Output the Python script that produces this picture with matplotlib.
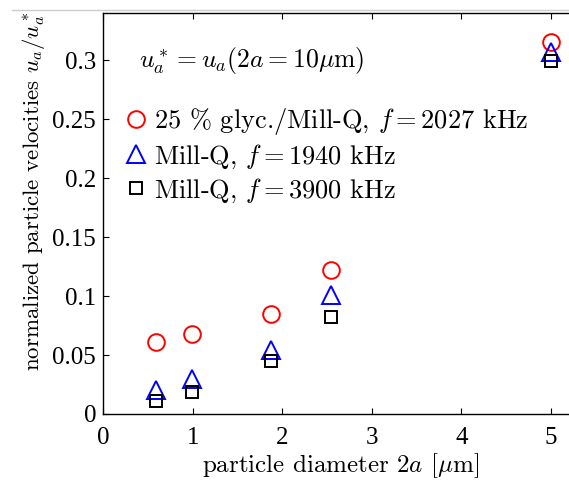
import matplotlib
matplotlib.use('Agg')
import matplotlib.pyplot as plt
from matplotlib.lines import Line2D

plt.rcParams['mathtext.fontset'] = 'cm'
plt.rcParams['axes.unicode_minus'] = False

# data
diam = [0.59, 0.99, 1.88, 2.54, 5.0]
glyc_2027 = [0.0613, 0.0675, 0.0845, 0.122, 0.3155]
mq_1940 = [0.020, 0.030, 0.054, 0.101, 0.307]
mq_3900 = [0.011, 0.019, 0.045, 0.082, 0.299]

labels = [r'25 % glyc./Mill-Q, $f = 2027$ kHz',
          r'Mill-Q, $f = 1940$ kHz',
          r'Mill-Q, $f = 3900$ kHz']

xticks = [0, 1, 2, 3, 4, 5]
yticks = [0, 0.05, 0.1, 0.15, 0.2, 0.25, 0.3]
ytick_labels = ['0', '0.05', '0.1', '0.15', '0.2', '0.25', '0.3']

fig = plt.figure(figsize=(5.69, 4.82), dpi=100)
ax = fig.add_axes([103/569, 68/482, 466/569, 401/482])

mew = 1.4
p1, = ax.plot(diam, glyc_2027, linestyle='None', marker='o', ms=12, mew=mew,
              mfc='none', mec='red')
p2, = ax.plot(diam, mq_1940, linestyle='None', marker='^', ms=12.5, mew=mew,
              mfc='none', mec='blue')
p3, = ax.plot(diam, mq_3900, linestyle='None', marker='s', ms=8.6, mew=mew,
              mfc='none', mec='black')

ax.set_xlim(0, 5.2)
ax.set_ylim(0, 0.34)
ax.set_xticks(xticks)
ax.set_yticks(yticks)
ax.set_yticklabels(ytick_labels)
for lab in ax.get_xticklabels() + ax.get_yticklabels():
    lab.set_family('Liberation Serif')
    lab.set_fontsize(18)
ax.tick_params(direction='in', length=4, width=0.8, top=True, right=False, pad=5)
ax.tick_params(axis='x', pad=9)
ax.spines['right'].set_visible(False)
for s in ['left', 'bottom', 'top']:
    ax.spines[s].set_linewidth(1.0)

ax.set_xlabel(r'particle diameter $2a$ [$\mu$m]', family='cmr10', size=18)
ax.set_ylabel(r'normalized particle velocities $u_a/u_a^*$', family='cmr10', size=16.5)
ax.xaxis.set_label_coords(0.509, -0.094)
ax.yaxis.set_label_coords(-0.12, 0.554)

# note above the legend
ax.text(0.40, 0.30, r'$u_a^* = u_a(2a = 10\mu\mathrm{m})$', fontsize=18.5, va='center')

lgd = ax.legend([p1, p2, p3], labels, loc='center left',
                bbox_to_anchor=(0.0, 0.645), frameon=False,
                prop={'family': 'cmr10', 'size': 19},
                handletextpad=0.15, handlelength=1.1, labelspacing=0.2,
                borderaxespad=0.3)

# thin grey border line at top of screenshot
fig.add_artist(Line2D([12/569, 1], [1 - 10/482, 1 - 10/482], color='#cccccc', lw=1))

fig.savefig('out.png', dpi=100)
